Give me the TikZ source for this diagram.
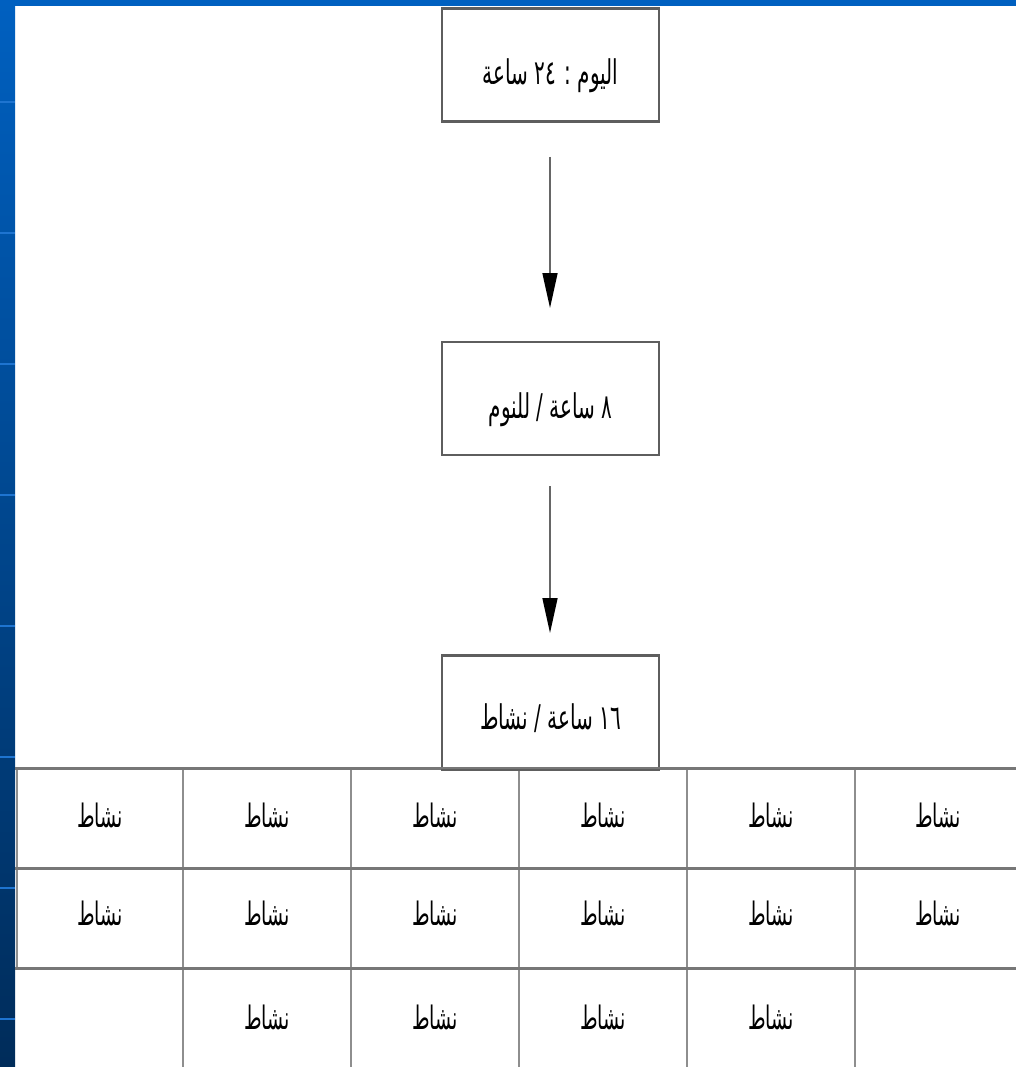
\documentclass[tikz,border=0pt]{standalone}
\usepackage{fontspec}
\newfontfamily\arabicfont[Script=Arabic]{DejaVu Sans}
\TeXXeTstate=1
\usetikzlibrary{arrows.meta}
\definecolor{slideblue}{HTML}{0060C0}
\definecolor{slidedark}{HTML}{002C5A}
\definecolor{stripeline}{HTML}{1E74D0}
\definecolor{framegray}{HTML}{5E5E5E}
\definecolor{rulegray}{HTML}{777777}
\definecolor{cellgray}{HTML}{8E8E8E}
% tall Arabic lettering
\newcommand{\artext}[1]{\scalebox{1}[1.7]{\arabicfont #1}}
% lettering whose baseline sits a given distance below the node centre
\newcommand{\lowtext}[2]{\smash{\raisebox{-#1}{\artext{#2}}}}
\tikzset{
  stagebox/.style={draw=framegray, line width=2.2pt, fill=white,
    minimum width=217pt, minimum height=113pt, inner sep=0pt,
    font=\fontsize{20}{24}\selectfont},
  flow/.style={draw=black!60, line width=1.6pt,
    -{Triangle[length=35pt,width=15pt,fill=black,color=black]}},
  celltext/.style={font=\fontsize{19}{22}\selectfont, inner sep=0pt},
  hrule/.style={draw=rulegray, line width=3pt},
  vrule/.style={draw=cellgray, line width=1.5pt},
}
\begin{document}
\begin{tikzpicture}[x=1pt,y=-1pt]
\useasboundingbox (0,0) rectangle (1016,1067);
% slide background
\fill[white] (0,0) rectangle (1016,1067);
\shade[top color=slideblue, bottom color=slidedark] (0,0) rectangle (15,1067);
\fill[slideblue] (0,0) rectangle (1016,6);
\foreach \yy in {102,233,364,495,626,757,888,1019}
  \draw[stripeline, line width=1.5pt] (0,\yy) -- (15,\yy);

% the three stages of the day
\node[stagebox] (day) at (550.5,65)
  {\lowtext{20pt}{\beginR اليوم : \beginL ٢٤\endL{} ساعة\endR}};
\node[stagebox] (sleep) at (550.5,398.5)
  {\lowtext{20pt}{\beginR ٨ ساعة / للنوم\endR}};
\node[stagebox] (act) at (550.5,712)
  {\lowtext{17pt}{\beginR \beginL ١٦\endL{} ساعة / نشاط\endR}};

\coordinate (a1s) at (550,157);
\coordinate (a1e) at (550,308);
\coordinate (a2s) at (550,486);
\coordinate (a2e) at (550,633);
\draw[flow] (a1s) -- (a1e);
\draw[flow] (a2s) -- (a2e);

% activity table
\foreach \xx in {183,351,519,687,855}
  \draw[vrule] (\xx,768) -- (\xx,1067);
\draw[vrule] (17,768) -- (17,968);
\foreach \yy in {768,868,968}
  \draw[hrule] (15,\yy) -- (1016,\yy);
\draw[framegray, line width=2.2pt] (act.south west) -- (act.south east);

\foreach \cx [count=\i] in {100,267,435,603,771,938} {
  \node[celltext] (r1c\i) at (\cx,815) {\artext{\beginR نشاط\endR}};
  \node[celltext] (r2c\i) at (\cx,913) {\artext{\beginR نشاط\endR}};
}
\foreach \cx [count=\i from 2] in {267,435,603,771}
  \node[celltext] (r3c\i) at (\cx,1017) {\artext{\beginR نشاط\endR}};
\end{tikzpicture}
\end{document}
